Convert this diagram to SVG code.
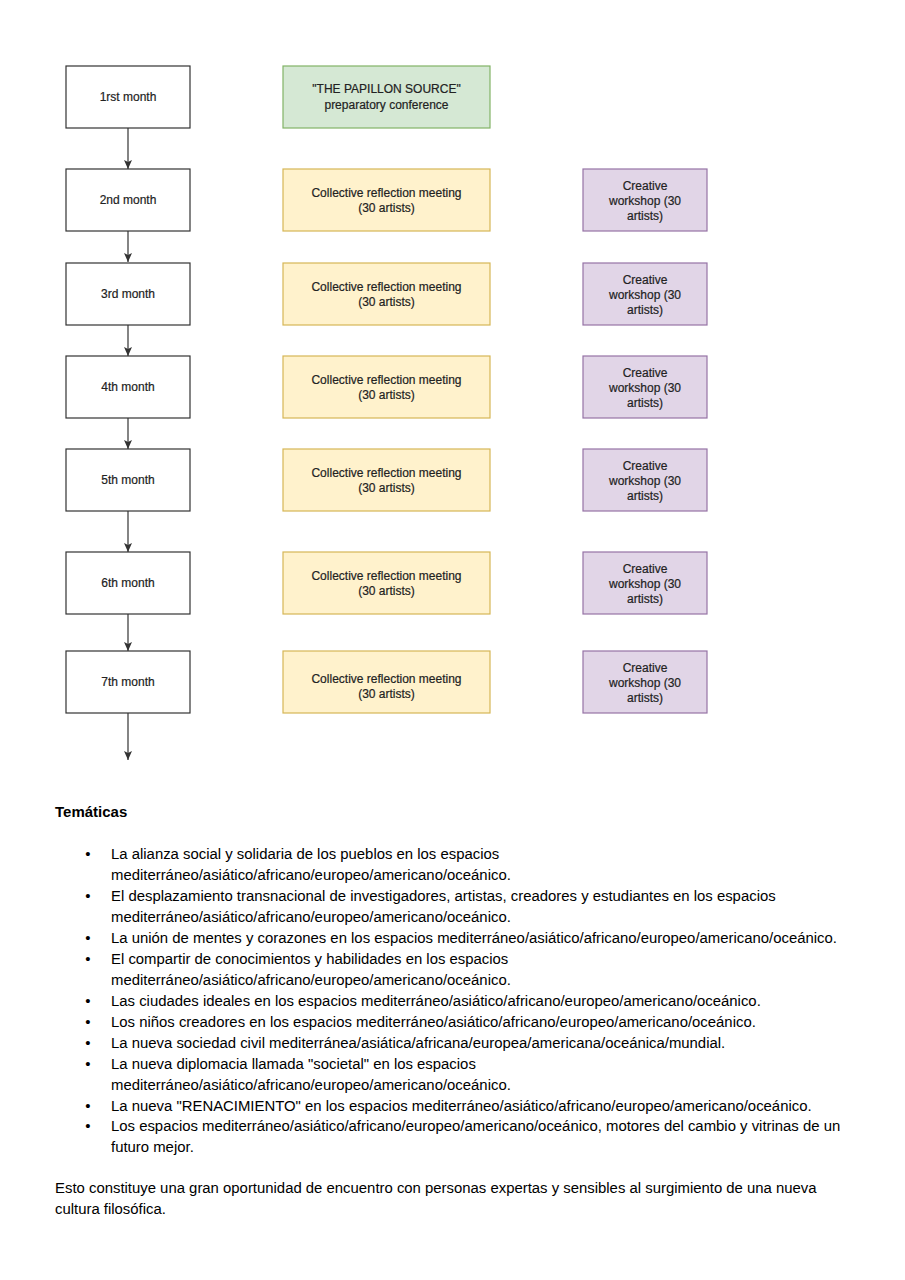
<svg xmlns="http://www.w3.org/2000/svg" width="905" height="1280" viewBox="0 0 905 1280">
<style>
.bg{fill:#ffffff}
.month{fill:#ffffff;stroke:#333333;stroke-width:1.2}
.green{fill:#d5e8d4;stroke:#82b366;stroke-width:1.2}
.yellow{fill:#fff2cc;stroke:#d6b656;stroke-width:1.2}
.purple{fill:#e1d5e7;stroke:#9673a6;stroke-width:1.2}
.lbl{font-family:"Liberation Sans",Arial,sans-serif;font-size:12px;fill:#222222;text-anchor:middle;stroke:#222222;stroke-width:0.2}
.conn{stroke:#333333;stroke-width:1.2;fill:none;marker-end:url(#arr)}
.body{font-family:"Liberation Sans",Arial,sans-serif;font-size:14.9px;fill:#000000}
.head{font-family:"Liberation Sans",Arial,sans-serif;font-size:15px;font-weight:bold;fill:#000000}
.bul{font-family:"Liberation Sans",Arial,sans-serif;font-size:15px;fill:#000000;text-anchor:middle}
</style>
<defs>
<marker id="arr" viewBox="0 0 9 8" refX="9" refY="4" markerWidth="9" markerHeight="8" markerUnits="userSpaceOnUse" orient="auto">
<path d="M0,0 L9,4 L0,8 L2,4 z" fill="#333333"/>
</marker>
</defs>
<rect class="bg" x="0" y="0" width="905" height="1280"/>

<g id="connectors">
<line class="conn" x1="128" y1="128" x2="128" y2="169"/>
<line class="conn" x1="128" y1="231" x2="128" y2="262"/>
<line class="conn" x1="128" y1="325" x2="128" y2="356"/>
<line class="conn" x1="128" y1="418" x2="128" y2="449"/>
<line class="conn" x1="128" y1="511" x2="128" y2="552"/>
<line class="conn" x1="128" y1="614" x2="128" y2="651"/>
<line class="conn" x1="128" y1="713" x2="128" y2="760"/>
</g>

<g id="month1"><rect class="month" x="66" y="66" width="124" height="62"/><text class="lbl" x="128" y="101">1rst month</text></g>
<g id="month2"><rect class="month" x="66" y="169" width="124" height="62"/><text class="lbl" x="128" y="204">2nd month</text></g>
<g id="month3"><rect class="month" x="66" y="263" width="124" height="62"/><text class="lbl" x="128" y="298">3rd month</text></g>
<g id="month4"><rect class="month" x="66" y="356" width="124" height="62"/><text class="lbl" x="128" y="391">4th month</text></g>
<g id="month5"><rect class="month" x="66" y="449" width="124" height="62"/><text class="lbl" x="128" y="484">5th month</text></g>
<g id="month6"><rect class="month" x="66" y="552" width="124" height="62"/><text class="lbl" x="128" y="587">6th month</text></g>
<g id="month7"><rect class="month" x="66" y="651" width="124" height="62"/><text class="lbl" x="128" y="686">7th month</text></g>

<g id="conference"><rect class="green" x="283" y="66" width="207" height="62"/><text class="lbl" x="386.5" y="93">"THE PAPILLON SOURCE"</text><text class="lbl" x="386.5" y="108.5">preparatory conference</text></g>

<g id="meeting2"><rect class="yellow" x="283" y="169" width="207" height="62"/><text class="lbl" x="386.5" y="196.5">Collective reflection meeting</text><text class="lbl" x="386.5" y="212">(30 artists)</text></g>
<g id="meeting3"><rect class="yellow" x="283" y="263" width="207" height="62"/><text class="lbl" x="386.5" y="290.5">Collective reflection meeting</text><text class="lbl" x="386.5" y="306">(30 artists)</text></g>
<g id="meeting4"><rect class="yellow" x="283" y="356" width="207" height="62"/><text class="lbl" x="386.5" y="383.5">Collective reflection meeting</text><text class="lbl" x="386.5" y="399">(30 artists)</text></g>
<g id="meeting5"><rect class="yellow" x="283" y="449" width="207" height="62"/><text class="lbl" x="386.5" y="476.5">Collective reflection meeting</text><text class="lbl" x="386.5" y="492">(30 artists)</text></g>
<g id="meeting6"><rect class="yellow" x="283" y="552" width="207" height="62"/><text class="lbl" x="386.5" y="579.5">Collective reflection meeting</text><text class="lbl" x="386.5" y="595">(30 artists)</text></g>
<g id="meeting7"><rect class="yellow" x="283" y="651" width="207" height="62"/><text class="lbl" x="386.5" y="682.5">Collective reflection meeting</text><text class="lbl" x="386.5" y="698">(30 artists)</text></g>

<g id="workshop2"><rect class="purple" x="583" y="169" width="124" height="62"/><text class="lbl" x="645" y="189.5">Creative</text><text class="lbl" x="645" y="204.5">workshop (30</text><text class="lbl" x="645" y="219.5">artists)</text></g>
<g id="workshop3"><rect class="purple" x="583" y="263" width="124" height="62"/><text class="lbl" x="645" y="283.5">Creative</text><text class="lbl" x="645" y="298.5">workshop (30</text><text class="lbl" x="645" y="313.5">artists)</text></g>
<g id="workshop4"><rect class="purple" x="583" y="356" width="124" height="62"/><text class="lbl" x="645" y="376.5">Creative</text><text class="lbl" x="645" y="391.5">workshop (30</text><text class="lbl" x="645" y="406.5">artists)</text></g>
<g id="workshop5"><rect class="purple" x="583" y="449" width="124" height="62"/><text class="lbl" x="645" y="469.5">Creative</text><text class="lbl" x="645" y="484.5">workshop (30</text><text class="lbl" x="645" y="499.5">artists)</text></g>
<g id="workshop6"><rect class="purple" x="583" y="552" width="124" height="62"/><text class="lbl" x="645" y="572.5">Creative</text><text class="lbl" x="645" y="587.5">workshop (30</text><text class="lbl" x="645" y="602.5">artists)</text></g>
<g id="workshop7"><rect class="purple" x="583" y="651" width="124" height="62"/><text class="lbl" x="645" y="671.5">Creative</text><text class="lbl" x="645" y="686.5">workshop (30</text><text class="lbl" x="645" y="701.5">artists)</text></g>

<g id="tematicas">
<text class="head" x="55" y="817">Temáticas</text>
<text class="bul" x="88" y="859">•</text>
<text class="body" x="111" y="859">La alianza social y solidaria de los pueblos en los espacios</text>
<text class="body" x="111" y="880">mediterráneo/asiático/africano/europeo/americano/oceánico.</text>
<text class="bul" x="88" y="901">•</text>
<text class="body" x="111" y="901">El desplazamiento transnacional de investigadores, artistas, creadores y estudiantes en los espacios</text>
<text class="body" x="111" y="922">mediterráneo/asiático/africano/europeo/americano/oceánico.</text>
<text class="bul" x="88" y="943">•</text>
<text class="body" x="111" y="943">La unión de mentes y corazones en los espacios mediterráneo/asiático/africano/europeo/americano/oceánico.</text>
<text class="bul" x="88" y="964">•</text>
<text class="body" x="111" y="964">El compartir de conocimientos y habilidades en los espacios</text>
<text class="body" x="111" y="985">mediterráneo/asiático/africano/europeo/americano/oceánico.</text>
<text class="bul" x="88" y="1006">•</text>
<text class="body" x="111" y="1006">Las ciudades ideales en los espacios mediterráneo/asiático/africano/europeo/americano/oceánico.</text>
<text class="bul" x="88" y="1026.5">•</text>
<text class="body" x="111" y="1026.5">Los niños creadores en los espacios mediterráneo/asiático/africano/europeo/americano/oceánico.</text>
<text class="bul" x="88" y="1047.5">•</text>
<text class="body" x="111" y="1047.5">La nueva sociedad civil mediterránea/asiática/africana/europea/americana/oceánica/mundial.</text>
<text class="bul" x="88" y="1068.5">•</text>
<text class="body" x="111" y="1068.5">La nueva diplomacia llamada "societal" en los espacios</text>
<text class="body" x="111" y="1089.5">mediterráneo/asiático/africano/europeo/americano/oceánico.</text>
<text class="bul" x="88" y="1110.5">•</text>
<text class="body" x="111" y="1110.5">La nueva "RENACIMIENTO" en los espacios mediterráneo/asiático/africano/europeo/americano/oceánico.</text>
<text class="bul" x="88" y="1131">•</text>
<text class="body" x="111" y="1131">Los espacios mediterráneo/asiático/africano/europeo/americano/oceánico, motores del cambio y vitrinas de un</text>
<text class="body" x="111" y="1152">futuro mejor.</text>
<text class="body" x="55" y="1193">Esto constituye una gran oportunidad de encuentro con personas expertas y sensibles al surgimiento de una nueva</text>
<text class="body" x="55" y="1214">cultura filosófica.</text>
</g>
</svg>
